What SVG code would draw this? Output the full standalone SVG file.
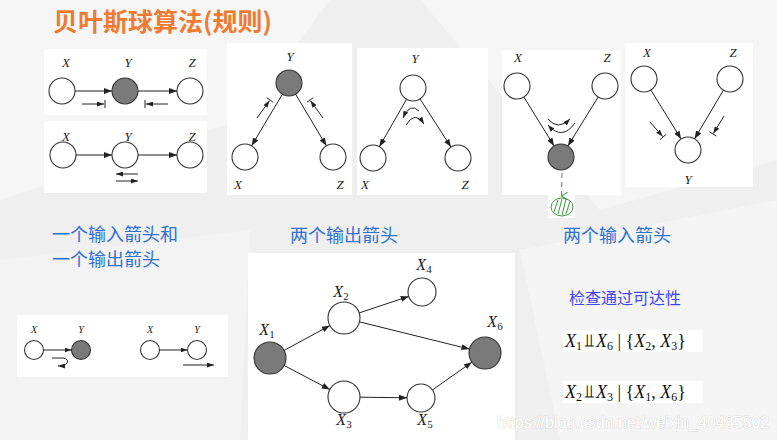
<svg xmlns="http://www.w3.org/2000/svg" width="777" height="440" viewBox="0 0 777 440">
<defs>
<marker id="ah" markerUnits="userSpaceOnUse" markerWidth="8" markerHeight="6" refX="8" refY="3" orient="auto"><path d="M0,0 L8,3 L0,6 z" fill="#222"/></marker>
<marker id="ahs" markerUnits="userSpaceOnUse" markerWidth="7" markerHeight="5" refX="7" refY="2.5" orient="auto"><path d="M0,0 L7,2.5 L0,5 z" fill="#222"/></marker>
<marker id="ahg" markerUnits="userSpaceOnUse" markerWidth="8" markerHeight="8" refX="4" refY="7" orient="auto-start-reverse"><path d="M0,1 L4,7 L8,1" fill="none" stroke="#3a9a3a" stroke-width="1"/></marker>
</defs>
<style>
.pan{fill:#fff}
.n{fill:#fff;stroke:#333;stroke-width:1.1}
.s{fill:#7a7a7a;stroke:#333;stroke-width:1.1}
.e{stroke:#222;stroke-width:1;fill:none;marker-end:url(#ah)}
.m{stroke:#222;stroke-width:1;fill:none;marker-end:url(#ahs)}
.b{stroke:#222;stroke-width:1;fill:none}
.lb{font-family:"Liberation Serif",serif;font-style:italic;font-size:13px;fill:#222;text-anchor:middle}
.lbs{font-size:10px}
.gl{font-family:"Liberation Serif",serif;font-size:16px;fill:#222;text-anchor:middle}
.gl .i{font-style:italic}
.sub{font-size:11px;font-style:normal}
.cn{font-family:"Noto Sans CJK SC",sans-serif;font-size:18px;fill:#2f72d4}
.fm{font-family:"Liberation Serif","DejaVu Serif",serif;font-size:18px;fill:#111}
.fm .i{font-style:italic}
.fm .sb{font-size:12px}
</style>
<rect width="777" height="440" fill="#efefef"/>
<polygon points="0,0 330,0 240,120 0,200" fill="#f6f6f6"/>
<polygon points="420,0 777,0 777,160 600,210" fill="#f5f5f5"/>
<polygon points="0,260 250,230 240,440 0,440" fill="#f3f3f3"/>
<polygon points="520,250 777,200 777,440 560,440" fill="#f4f4f4"/>
<text x="53" y="31" font-family="Noto Sans CJK SC,sans-serif" font-size="25" font-weight="bold" fill="#ee7b30">贝叶斯球算法(规则)</text>

<!-- panels -->
<rect class="pan" x="44" y="49" width="163" height="66"/>
<rect class="pan" x="44" y="121" width="163" height="72"/>
<rect class="pan" x="227" y="43" width="125" height="152"/>
<rect class="pan" x="357" y="48" width="131" height="147"/>
<rect class="pan" x="502" y="50" width="119" height="145"/>
<rect class="pan" x="548" y="193" width="27" height="25"/>
<rect class="pan" x="625" y="43" width="128" height="144"/>
<rect class="pan" x="17" y="315" width="211" height="62"/>
<rect class="pan" x="248" y="253" width="267" height="187"/>
<rect class="pan" x="563" y="330" width="140" height="22"/>
<rect class="pan" x="563" y="381" width="140" height="22"/>

<!-- nodes -->
<g id="p1-X"><circle class="n" cx="62" cy="91" r="13"/><text class="lb" x="66" y="67">X</text></g>
<g id="p1-Y"><circle class="s" cx="125" cy="91" r="13"/><text class="lb" x="128" y="67">Y</text></g>
<g id="p1-Z"><circle class="n" cx="190" cy="91" r="13"/><text class="lb" x="192" y="67">Z</text></g>
<g id="p2-X"><circle class="n" cx="63" cy="155" r="13"/><text class="lb" x="66" y="141">X</text></g>
<g id="p2-Y"><circle class="n" cx="125" cy="155" r="13"/><text class="lb" x="128" y="141">Y</text></g>
<g id="p2-Z"><circle class="n" cx="190" cy="155" r="13"/><text class="lb" x="192" y="141">Z</text></g>
<g id="p3-Y"><circle class="s" cx="289" cy="83" r="13"/><text class="lb" x="290" y="61">Y</text></g>
<g id="p3-X"><circle class="n" cx="245" cy="157" r="13"/><text class="lb" x="238" y="189">X</text></g>
<g id="p3-Z"><circle class="n" cx="333" cy="157" r="13"/><text class="lb" x="340" y="189">Z</text></g>
<g id="p4-Y"><circle class="n" cx="413" cy="88" r="13"/><text class="lb" x="415" y="63">Y</text></g>
<g id="p4-X"><circle class="n" cx="373" cy="158" r="13"/><text class="lb" x="365" y="189">X</text></g>
<g id="p4-Z"><circle class="n" cx="458" cy="158" r="13"/><text class="lb" x="465" y="189">Z</text></g>
<g id="p5-X"><circle class="n" cx="517" cy="86" r="13"/><text class="lb" x="518" y="62">X</text></g>
<g id="p5-Z"><circle class="n" cx="605" cy="86" r="13"/><text class="lb" x="607" y="62">Z</text></g>
<g id="p5-Y"><circle class="s" cx="561" cy="157" r="13"/></g>
<g id="p5-ball">
<ellipse cx="562" cy="207" rx="11" ry="9" fill="none" stroke="#3a9a3a" stroke-width="1"/>
<path d="M554,212 L558,200 M558,214 L562,199 M562,215 L566,199 M566,214 L570,201" stroke="#3a9a3a" stroke-width="1" fill="none"/>
</g>
<g id="p6-X"><circle class="n" cx="644" cy="79" r="13"/><text class="lb" x="647" y="57">X</text></g>
<g id="p6-Z"><circle class="n" cx="730" cy="79" r="13"/><text class="lb" x="733" y="57">Z</text></g>
<g id="p6-Y"><circle class="n" cx="688" cy="150" r="13"/><text class="lb" x="688" y="184">Y</text></g>
<g id="p7-X1"><circle class="n" cx="34" cy="350" r="9.5"/><text class="lb lbs" x="34" y="333">X</text></g>
<g id="p7-Y1"><circle class="s" cx="81" cy="350" r="9.5"/><text class="lb lbs" x="81" y="333">Y</text></g>
<g id="p7-X2"><circle class="n" cx="150" cy="350" r="9.5"/><text class="lb lbs" x="150" y="333">X</text></g>
<g id="p7-Y2"><circle class="n" cx="197" cy="350" r="9.5"/><text class="lb lbs" x="197" y="333">Y</text></g>
<g id="X1"><circle class="s" cx="270" cy="358" r="16"/><text class="gl" x="267" y="335"><tspan class="i">X</tspan><tspan class="sub" dy="3">1</tspan></text></g>
<g id="X2"><circle class="n" cx="344" cy="318" r="16"/><text class="gl" x="341" y="297"><tspan class="i">X</tspan><tspan class="sub" dy="3">2</tspan></text></g>
<g id="X3"><circle class="n" cx="344" cy="397" r="16"/><text class="gl" x="344" y="425"><tspan class="i">X</tspan><tspan class="sub" dy="3">3</tspan></text></g>
<g id="X4"><circle class="n" cx="422" cy="292" r="14"/><text class="gl" x="424" y="270"><tspan class="i">X</tspan><tspan class="sub" dy="3">4</tspan></text></g>
<g id="X5"><circle class="n" cx="421" cy="398" r="14"/><text class="gl" x="425" y="425"><tspan class="i">X</tspan><tspan class="sub" dy="3">5</tspan></text></g>
<g id="X6"><circle class="s" cx="485" cy="353" r="16"/><text class="gl" x="495" y="327"><tspan class="i">X</tspan><tspan class="sub" dy="3">6</tspan></text></g>

<!-- connectors -->
<g id="connectors">
<line class="e" x1="75" y1="91" x2="112" y2="91"/>
<line class="e" x1="138" y1="91" x2="177" y2="91"/>
<line class="m" x1="82" y1="104" x2="104" y2="104"/><line class="b" x1="105" y1="100" x2="105" y2="108"/>
<line class="m" x1="168" y1="104" x2="146" y2="104"/><line class="b" x1="145" y1="100" x2="145" y2="108"/>
<line class="e" x1="76" y1="155" x2="112" y2="155"/>
<line class="e" x1="138" y1="155" x2="177" y2="155"/>
<line class="m" x1="138" y1="174" x2="116" y2="174"/>
<line class="m" x1="116" y1="181" x2="138" y2="181"/>

<line class="e" x1="282.4" y1="94.2" x2="251.6" y2="145.8"/>
<line class="e" x1="295.6" y1="94.2" x2="326.4" y2="145.8"/>
<line class="m" x1="257" y1="118" x2="269.5" y2="100.7"/><line class="b" x1="266.8" y1="97.7" x2="273.2" y2="102.3"/>
<line class="m" x1="323" y1="118" x2="310.5" y2="100.7"/><line class="b" x1="306.8" y1="102.3" x2="313.2" y2="97.7"/>

<line class="e" x1="406.5" y1="99.3" x2="379.4" y2="146.7"/>
<line class="e" x1="420" y1="98.9" x2="451" y2="147.1"/>
<path class="m" d="M419,111 Q410,102 403,118"/>
<path class="m" d="M406,125 Q415,110 424,124"/>

<line class="e" x1="523.9" y1="97.1" x2="554.1" y2="145.9"/>
<line class="e" x1="598.1" y1="97.1" x2="567.9" y2="145.9"/>
<path class="m" d="M548,119 Q558,131 570,119"/>
<path class="m" d="M575,123 Q562,141 548,125"/>
<line x1="562" y1="173" x2="561.5" y2="196" stroke="#3a9a3a" stroke-width="1" stroke-dasharray="5,4" marker-end="url(#ahg)"/>

<line class="e" x1="650.9" y1="90.1" x2="681.1" y2="138.9"/>
<line class="e" x1="723.4" y1="90.2" x2="694.6" y2="138.8"/>
<line class="m" x1="650" y1="122" x2="662.6" y2="136.5"/><line class="b" x1="666" y1="134.4" x2="660" y2="139.6"/>
<line class="m" x1="724" y1="116" x2="713.3" y2="133.5"/><line class="b" x1="716.4" y1="136.1" x2="709.6" y2="131.9"/>

<line class="m" x1="43.5" y1="350" x2="71.5" y2="350"/>
<path class="m" d="M52,358 L63,358 Q69,359 67,363 Q65,366 58,366"/>
<line class="m" x1="159.5" y1="350" x2="187.5" y2="350"/>
<line class="m" x1="183" y1="365" x2="214" y2="365"/>

<line class="e" x1="284.1" y1="350.4" x2="329.9" y2="325.6"/>
<line class="e" x1="284.2" y1="365.5" x2="329.8" y2="389.5"/>
<line class="e" x1="359.2" y1="312.9" x2="408.7" y2="296.4"/>
<line class="e" x1="359.5" y1="321.9" x2="469.5" y2="349.1"/>
<line class="e" x1="360" y1="397.2" x2="407" y2="397.8"/>
<line class="e" x1="432.5" y1="389.9" x2="471.9" y2="362.2"/>
</g>

<text class="cn" x="52" y="241">一个输入箭头和</text>
<text class="cn" x="52" y="266">一个输出箭头</text>
<text class="cn" x="290" y="242">两个输出箭头</text>
<text class="cn" x="563" y="242">两个输入箭头</text>
<text x="569" y="304" font-family="Noto Sans CJK SC,sans-serif" font-size="16" fill="#4545f0">检查通过可达性</text>

<text class="fm" x="565" y="347"><tspan class="i">X</tspan><tspan class="sb" dy="3">1</tspan><tspan dy="-3" dx="2">⫫</tspan><tspan class="i" dx="2">X</tspan><tspan class="sb" dy="3">6</tspan><tspan dy="-3"> | {</tspan><tspan class="i">X</tspan><tspan class="sb" dy="3">2</tspan><tspan dy="-3">, </tspan><tspan class="i">X</tspan><tspan class="sb" dy="3">3</tspan><tspan dy="-3">}</tspan></text>
<text class="fm" x="565" y="398"><tspan class="i">X</tspan><tspan class="sb" dy="3">2</tspan><tspan dy="-3" dx="2">⫫</tspan><tspan class="i" dx="2">X</tspan><tspan class="sb" dy="3">3</tspan><tspan dy="-3"> | {</tspan><tspan class="i">X</tspan><tspan class="sb" dy="3">1</tspan><tspan dy="-3">, </tspan><tspan class="i">X</tspan><tspan class="sb" dy="3">6</tspan><tspan dy="-3">}</tspan></text>

<text x="497" y="428" font-family="Liberation Sans,sans-serif" font-size="16" fill="#ffffff" stroke="#cdcdcd" stroke-width="0.6" paint-order="stroke">https://blog.csdn.net/weixin_40485502</text>
</svg>
